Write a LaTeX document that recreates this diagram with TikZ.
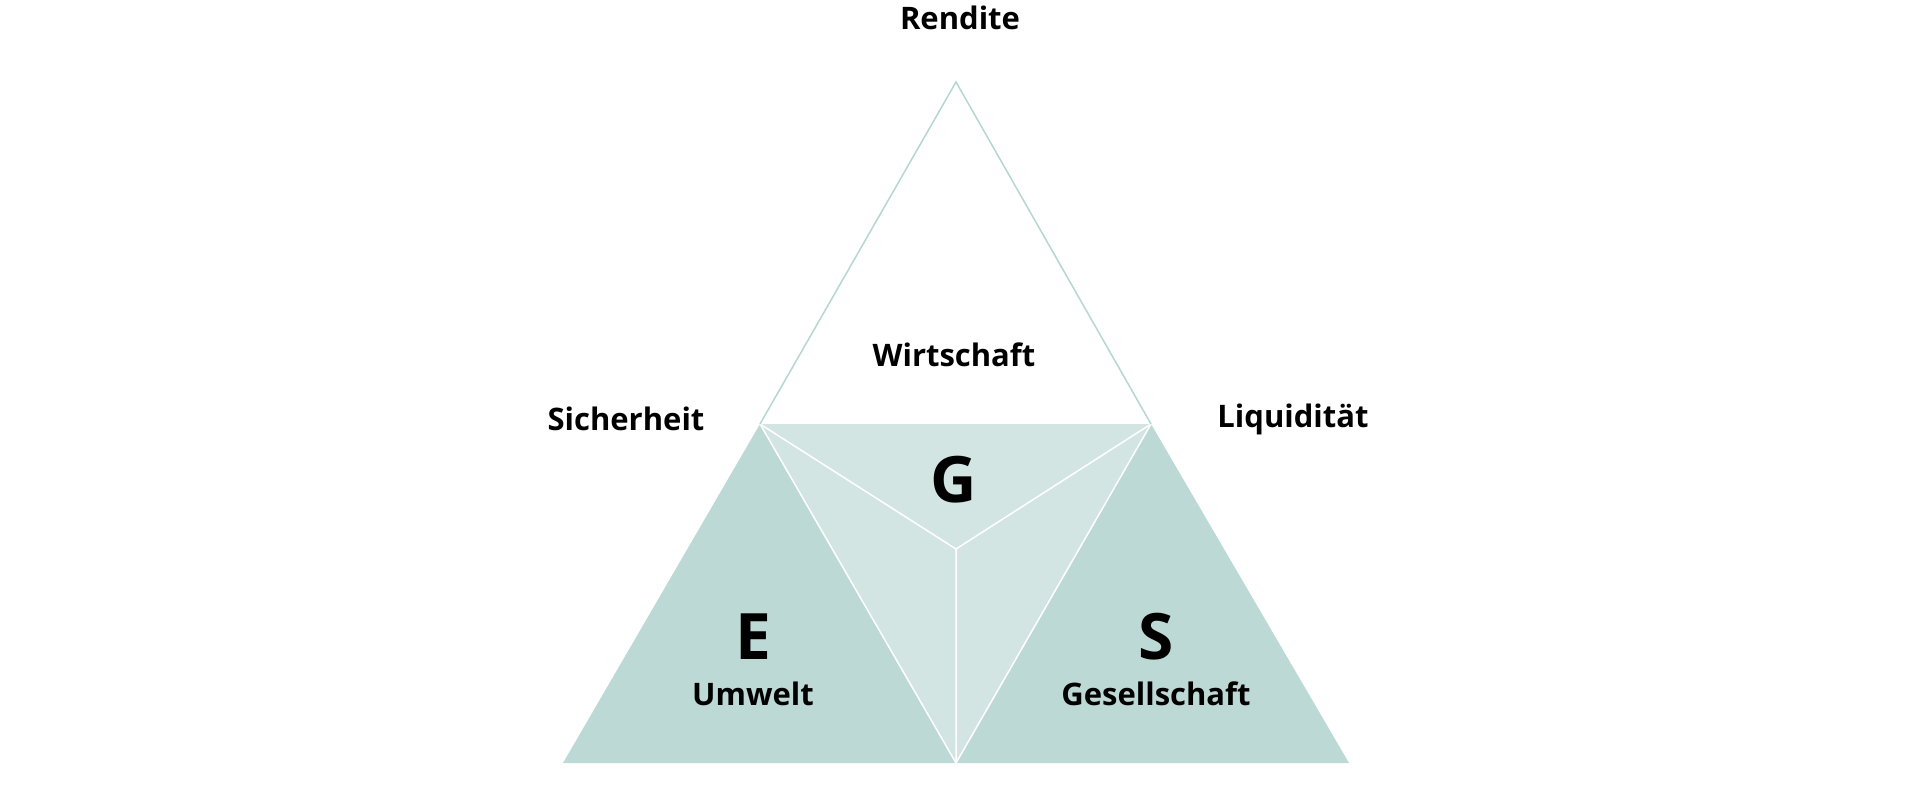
\documentclass[tikz,border=0pt]{standalone}
\usepackage{fontspec}
\setmainfont{Open Sans}
\definecolor{esgdark}{HTML}{BDD9D5}
\definecolor{esglight}{HTML}{D2E5E3}
\definecolor{esgline}{HTML}{B5D6D1}
\tikzset{
  lbl/.style={font=\bfseries\fontsize{31}{36}\selectfont},
  big/.style={font=\bfseries\fontsize{64}{70}\selectfont}
}
\begin{document}
\begin{tikzpicture}[x=1pt,y=-1pt]
   \useasboundingbox (0,0) rectangle (1920,790);
   \coordinate (top) at (956,82);
   \coordinate (bl) at (563,763);
   \coordinate (br) at (1349,763);
   \coordinate (ml) at (760,424);
   \coordinate (mr) at (1151,424);
   \coordinate (bm) at (956,763);
   \coordinate (ctr) at (956,549);
      \fill[esgdark] (ml) -- (bl) -- (bm) -- cycle;
      \fill[esgdark] (mr) -- (br) -- (bm) -- cycle;
      \fill[esglight] (ml) -- (mr) -- (bm) -- cycle;
      \draw[white,line width=1.5pt] (ml) -- (ctr) -- (mr) (ctr) -- (bm);
      \draw[white,line width=1.5pt] (ml) -- (bm) -- (mr);
   \draw[esgline,line width=1.5pt] (ml) -- (top) -- (mr);
   % labels
   \node[lbl] (rendite) at (960,18) {Rendite};
   \node[lbl] (sicher) at (626,419) {Sicherheit};
   \node[lbl] (liquid) at (1293,419) {Liquidität};
   \node[lbl] (wirt) at (954,355) {Wirtschaft};
   \node[big] (g) at (954,480) {G};
   \node[big] (e) at (753,637) {E};
   \node[lbl] (umwelt) at (753,694) {Umwelt};
   \node[big] (s) at (1156,637) {S};
   \node[lbl] (gesell) at (1156,694) {Gesellschaft};
\end{tikzpicture}
\end{document}
